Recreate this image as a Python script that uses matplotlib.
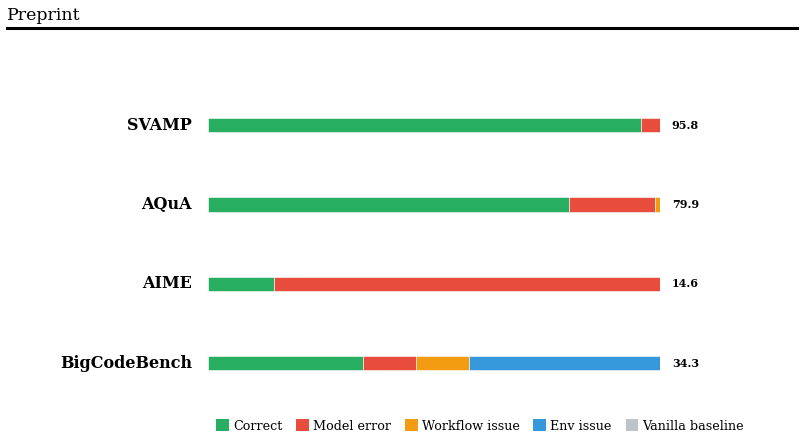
import matplotlib
matplotlib.use("Agg")
import matplotlib.pyplot as plt
from matplotlib.patches import Patch
from matplotlib.lines import Line2D
import numpy as np

plt.rcParams['font.family'] = ['DejaVu Serif']

benchmarks = ["SVAMP", "AQuA", "AIME", "BigCodeBench"]
correct = [95.8, 79.9, 14.6, 34.3]
model_error = [4.2, 19.0, 85.4, 11.7]
workflow_issue = [0.0, 1.1, 0.0, 11.7]
env_issue = [0.0, 0.0, 0.0, 42.3]
scores = ["95.8", "79.9", "14.6", "34.3"]

categories = ["Correct", "Model error", "Workflow issue", "Env issue", "Vanilla baseline"]
colors = ["#27ae60", "#e74c3c", "#f39c12", "#3498db", "#bdc3c7"]

fig = plt.figure(figsize=(8.04, 4.38), dpi=100)

# header
fig.text(7/804, 1-15/438, "Preprint", fontsize=12.5, ha="left", va="center")
fig.add_artist(Line2D([7/804, 797/804], [1-28/438, 1-28/438], color="black", lw=2.2,
                      transform=fig.transFigure))

ax = fig.add_axes([208/804, 1-402.7/438, 452/804, 317/438])
ypos = np.arange(len(benchmarks))[::-1]
series = [correct, model_error, workflow_issue, env_issue]
left = np.zeros(len(benchmarks))
for vals, c in zip(series, colors[:4]):
    vals = np.array(vals)
    ax.barh(ypos, vals, left=left, height=0.18, color=c, edgecolor="white", linewidth=0.4)
    left += vals

for y, name, s in zip(ypos, benchmarks, scores):
    ax.text(-3.5, y, name, ha="right", va="center", fontsize=11.5, fontweight="bold")
    ax.text(102.6, y, s, ha="left", va="center", fontsize=8, fontweight="bold")

ax.set_xlim(0, 100)
ax.set_ylim(-0.5, 3.5)
ax.axis("off")

handles = [Patch(facecolor=c, edgecolor="none", label=l) for c, l in zip(colors, categories)]
fig.legend(handles=handles, loc="center", bbox_to_anchor=(0.597, 1-426/438), ncol=5,
           frameon=False, fontsize=9.2, handlelength=1.0, handleheight=1.0,
           handletextpad=0.3, columnspacing=1.1)

fig.savefig("out.png", dpi=100)
